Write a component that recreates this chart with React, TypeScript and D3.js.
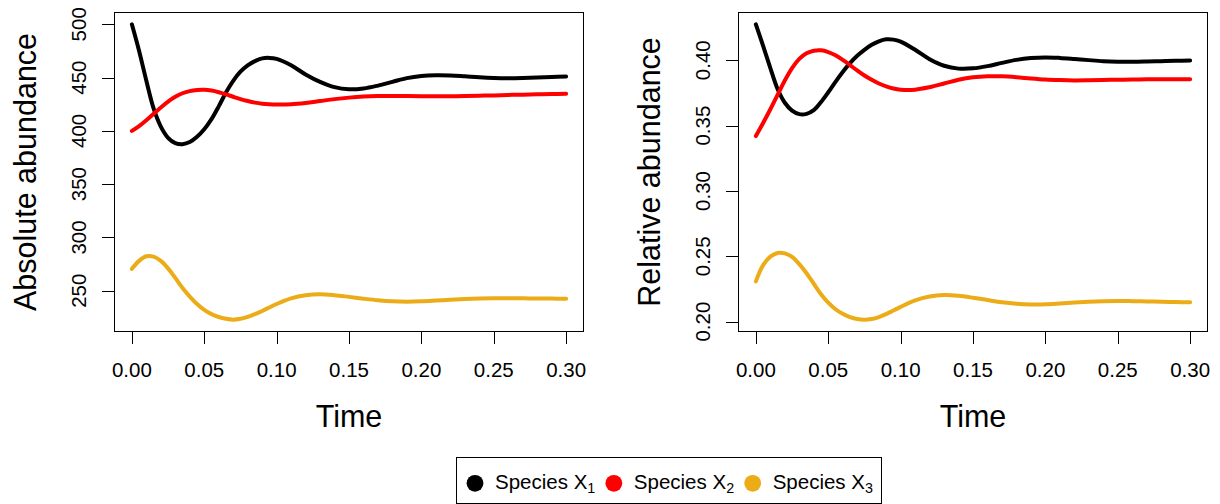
import React from "react";
import * as d3 from "d3";

// Sampling times shared by every series
const time = [
  0, 0.005, 0.01, 0.015, 0.02, 0.025, 0.03, 0.035, 0.04, 0.045, 0.05, 0.055, 0.06,
  0.065, 0.07, 0.075, 0.08, 0.085, 0.09, 0.095, 0.1, 0.11, 0.12, 0.13, 0.14, 0.15,
  0.16, 0.17, 0.18, 0.19, 0.2, 0.21, 0.22, 0.23, 0.24, 0.25, 0.26, 0.27, 0.28, 0.29, 0.3,
];

// Absolute abundance of each species
const absX1 = [
  500, 475, 447, 421, 404, 393.5, 388.5, 387.5, 389.5, 394.5, 401.5, 411, 423, 436, 447,
  455.5, 461.5, 465.5, 468, 468.5, 467.5, 461.5, 453, 446, 441, 439, 439.8, 442.5, 446,
  449.5, 451.5, 452.2, 452, 451.2, 450.3, 449.7, 449.5, 449.7, 450.1, 450.6, 451,
];
const absX2 = [
  400, 404.5, 410, 416, 422, 427.5, 432, 435.3, 437.3, 438.3, 438.5, 437.8, 436.3, 434.3,
  432, 429.8, 428, 426.5, 425.5, 425, 424.8, 425, 426.2, 428, 429.8, 431.2, 432.2, 432.7,
  432.8, 432.7, 432.5, 432.4, 432.5, 432.7, 433, 433.3, 433.7, 434, 434.3, 434.6, 434.8,
];
const absX3 = [
  270.5, 278, 282.3, 282, 278, 271, 262, 252.5, 244.5, 237.5, 232, 228, 225.3, 223.6,
  222.8, 223.6, 225.5, 228, 231, 234.3, 237.5, 242.8, 245.8, 246.7, 245.8, 244.2, 242.5,
  241, 240, 239.7, 240, 240.7, 241.5, 242.2, 242.7, 243, 243, 242.9, 242.7, 242.6, 242.5,
];

// Relative abundance of each species
const relX1 = [
  0.4275, 0.411, 0.394, 0.378, 0.3675, 0.3615, 0.3588, 0.359, 0.3618, 0.368, 0.3755,
  0.3835, 0.391, 0.3978, 0.4035, 0.408, 0.4118, 0.4145, 0.416, 0.4158, 0.4142, 0.408,
  0.4008, 0.3958, 0.3936, 0.3938, 0.3955, 0.398, 0.4003, 0.4017, 0.4022, 0.4018, 0.401,
  0.4001, 0.3993, 0.3989, 0.3988, 0.399, 0.3993, 0.3996, 0.3998,
];
const relX2 = [
  0.342, 0.352, 0.3625, 0.3735, 0.3845, 0.394, 0.401, 0.4053, 0.4073, 0.4076, 0.4063,
  0.4038, 0.4003, 0.3963, 0.3922, 0.3883, 0.385, 0.3822, 0.38, 0.3784, 0.3775, 0.3775,
  0.3794, 0.3822, 0.3851, 0.387, 0.3878, 0.3877, 0.387, 0.386, 0.3852, 0.3848, 0.3846,
  0.3847, 0.3849, 0.3851, 0.3853, 0.3854, 0.3855, 0.3855, 0.3855,
];
const relX3 = [
  0.2308, 0.2432, 0.2497, 0.2525, 0.2522, 0.2495, 0.244, 0.237, 0.229, 0.221, 0.2145,
  0.2095, 0.206, 0.2035, 0.202, 0.2015, 0.202, 0.2035, 0.2058, 0.2085, 0.2113, 0.2163,
  0.2193, 0.2204, 0.2198, 0.2183, 0.2165, 0.2148, 0.2137, 0.2132, 0.2133, 0.2139, 0.2146,
  0.2152, 0.2156, 0.2158, 0.2157, 0.2155, 0.2152, 0.215, 0.2148,
];

const timeTicks = [0, 0.05, 0.1, 0.15, 0.2, 0.25, 0.3];
const absTicks = [250, 300, 350, 400, 450, 500];
const relTicks = [0.2, 0.25, 0.3, 0.35, 0.4];

const speciesSubs = ["1", "2", "3"];
const speciesColors = ["#000000", "#FF0000", "#ECAC18"];

const FONT = "'Liberation Sans', Arial, Helvetica, sans-serif";
const FS = 20.5;
const TITLE_FS = 30.5;

const TOP = 12.5;
const BOTTOM = 331.5;
const PANEL_W = 469;

// R-style axis range: data extent widened by 4% on each side
function padded(values: number[]): [number, number] {
  const [lo, hi] = d3.extent(values) as [number, number];
  const d = (hi - lo) * 0.04;
  return [lo - d, hi + d];
}

type PanelProps = {
  left: number;
  series: number[][];
  yTicks: number[];
  yFormat: (v: number) => string;
  yTitle: string;
};

function Panel({ left, series, yTicks, yFormat, yTitle }: PanelProps) {
  const right = left + PANEL_W;
  const x = d3.scaleLinear().domain(padded(time)).range([left, right]);
  const y = d3.scaleLinear().domain(padded(series.flat())).range([BOTTOM, TOP]);
  const line = d3
    .line<number>()
    .x((_, i) => x(time[i]))
    .y((v) => y(v))
    .curve(d3.curveCatmullRom.alpha(0.5));
  const midY = (TOP + BOTTOM) / 2;

  return (
    <g>
      {series.map((s, i) => (
        <path
          key={i}
          d={line(s) ?? ""}
          fill="none"
          stroke={speciesColors[i]}
          strokeWidth={4}
          strokeLinecap="round"
          strokeLinejoin="round"
        />
      ))}
      <rect x={left} y={TOP} width={PANEL_W} height={BOTTOM - TOP} fill="none" stroke="#000" strokeWidth={1} />

      {/* x axis */}
      <line x1={x(timeTicks[0])} x2={x(timeTicks[timeTicks.length - 1])} y1={BOTTOM} y2={BOTTOM} stroke="#000" />
      {timeTicks.map((t) => (
        <g key={t}>
          <line x1={Math.round(x(t)) + 0.5} x2={Math.round(x(t)) + 0.5} y1={BOTTOM} y2={BOTTOM + 12.5} stroke="#000" />
          <text x={x(t)} y={BOTTOM + 45.5} textAnchor="middle" fontFamily={FONT} fontSize={FS}>
            {d3.format(".2f")(t)}
          </text>
        </g>
      ))}
      <text x={(left + right) / 2} y={BOTTOM + 95} textAnchor="middle" fontFamily={FONT} fontSize={TITLE_FS}>
        Time
      </text>

      {/* y axis */}
      {yTicks.map((v) => (
        <g key={v}>
          <line x1={left - 12.5} x2={left} y1={Math.round(y(v)) + 0.5} y2={Math.round(y(v)) + 0.5} stroke="#000" />
          <text
            transform={`translate(${left - 29},${y(v)}) rotate(-90)`}
            textAnchor="middle"
            fontFamily={FONT}
            fontSize={FS}
          >
            {yFormat(v)}
          </text>
        </g>
      ))}
      <text
        transform={`translate(${left - 79},${midY}) rotate(-90)`}
        textAnchor="middle"
        fontFamily={FONT}
        fontSize={TITLE_FS}
      >
        {yTitle}
      </text>
    </g>
  );
}

function Legend() {
  const x0 = 475;
  const step = 138.85;
  const cy = 483.3;
  return (
    <g>
      <rect x={456.5} y={457.5} width={425} height={46} fill="#fff" stroke="#000" strokeWidth={1} />
      {speciesSubs.map((sub, i) => {
        const cx = x0 + i * step;
        return (
          <g key={sub}>
            <circle cx={cx} cy={cy} r={8.4} fill={speciesColors[i]} />
            <text x={cx + 20} y={488.5} fontFamily={FONT} fontSize={FS}>
              Species X
              <tspan fontSize={14.3} dy={4}>
                {sub}
              </tspan>
            </text>
          </g>
        );
      })}
    </g>
  );
}

export default function App() {
  return (
    <svg
      width={1220}
      height={504}
      viewBox="0 0 1220 504"
      style={{ position: "absolute", left: 0, top: 0, background: "#fff" }}
    >
      <rect width={1220} height={504} fill="#fff" />
      <Panel
        left={114.5}
        series={[absX1, absX2, absX3]}
        yTicks={absTicks}
        yFormat={(v) => String(v)}
        yTitle="Absolute abundance"
      />
      <Panel
        left={738.5}
        series={[relX1, relX2, relX3]}
        yTicks={relTicks}
        yFormat={d3.format(".2f")}
        yTitle="Relative abundance"
      />
      <Legend />
    </svg>
  );
}
